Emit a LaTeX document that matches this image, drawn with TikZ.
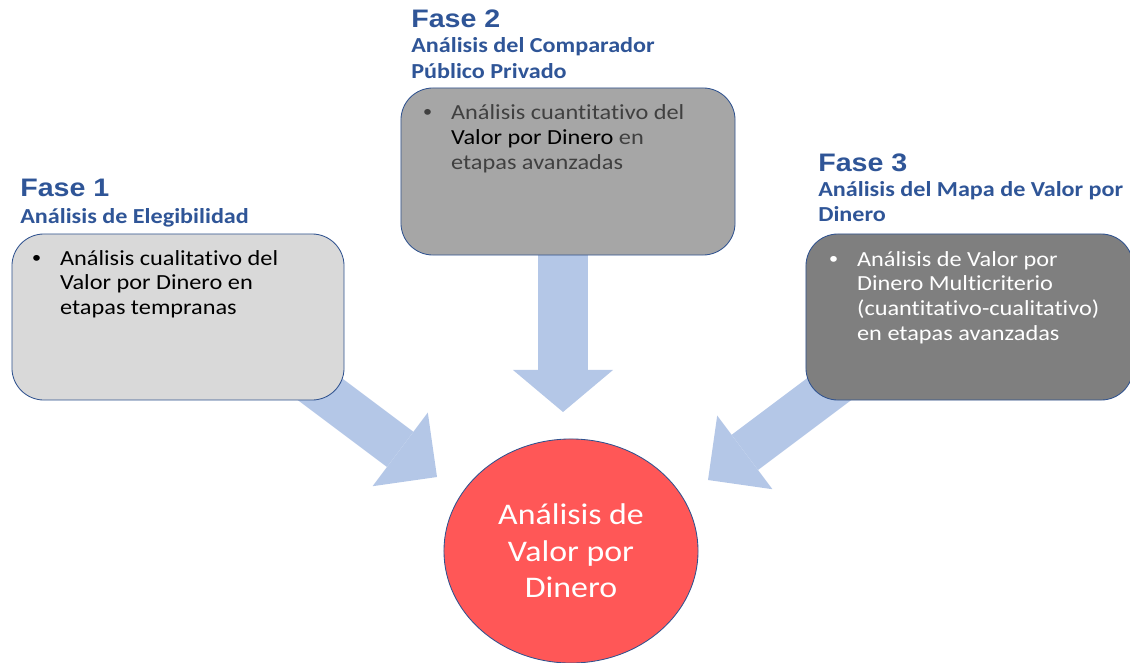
\documentclass[tikz,border=0pt]{standalone}
\usepackage{fontspec}
\setmainfont{Carlito}[FakeStretch=1.13, Ligatures=NoCommon]
\newfontfamily\fasefont{Liberation Sans}[FakeStretch=1.13]
\usetikzlibrary{
	positioning				% relative placement
	, arrows.meta			% block arrow tips
	, backgrounds			% arrows behind the boxes
	, shapes.geometric		% ellipse
}

\definecolor{faseazul}{HTML}{2F5597}
\definecolor{bordeazul}{HTML}{2F528F}
\definecolor{flechaazul}{HTML}{B4C7E7}
\definecolor{gris1}{HTML}{D9D9D9}
\definecolor{gris2}{HTML}{A6A6A6}
\definecolor{gris3}{HTML}{7F7F7F}
\definecolor{textogris}{HTML}{404040}
\definecolor{rojo}{HTML}{FF5757}

% small round bullet, as in the slides
\newcommand{\punto}{{\fasefont •}}

\begin{document}
\begin{tikzpicture}[
			x=0.025cm, y=-0.025cm,
			caja/.style={
				rectangle,
				rounded corners=0.8cm,
				draw=bordeazul, line width=0.6pt
			},
			titulo/.style={
				font=\fasefont\bfseries\fontsize{18}{21}\selectfont,
				text=faseazul,
				inner sep=0pt,
				anchor=base west
			},
			subtitulo/.style={
				titulo,
				font=\bfseries\fontsize{15.2}{17.8}\selectfont
			},
			vineta/.style={
				font=\fontsize{15.3}{17.7}\selectfont,
				inner sep=0pt,
				anchor=base west
			},
			flecha/.style={
				draw=flechaazul,
				line width=1.1cm,
				-{Triangle[length=1.15cm, width=2.3cm, line width=0pt]}
			}]

			\useasboundingbox (0,0) rectangle (1130,663);

			%%% The three phases
			\node [caja, fill=gris1, minimum width=8.3cm, minimum height=4.15cm] (caja1) at (178,317) {};
			\node [caja, fill=gris2, minimum width=8.35cm, minimum height=4.175cm] (caja2) at (568,171.5) {};
			\node [caja, fill=gris3, minimum width=8.175cm, minimum height=4.15cm] (caja3) at (969.5,317) {};

			\node [titulo] (fase1) at (20,197) {Fase 1};
			\node [subtitulo] (sub1) at (20,223) {Análisis de Elegibilidad};
			\node [vineta] (texto1) at (32,265) {\begin{tabular}[t]{@{}p{19.8pt}@{}l@{}}
				\punto & Análisis cualitativo del\\
				       & Valor por Dinero en\\
				       & etapas tempranas
			\end{tabular}};

			\node [titulo] (fase2) at (411,28) {Fase 2};
			\node [subtitulo] (sub2) at (411,53) {\begin{tabular}[t]{@{}l@{}}
				Análisis del Comparador\\
				Público Privado
			\end{tabular}};
			\node [vineta, text=textogris] (texto2) at (423,120) {\begin{tabular}[t]{@{}p{19.8pt}@{}l@{}}
				\punto & Análisis cuantitativo del\\
				       & {\color{black}Valor por Dinero} en\\
				       & etapas avanzadas
			\end{tabular}};

			\node [titulo] (fase3) at (818,172) {Fase 3};
			\node [subtitulo] (sub3) at (818,196) {\begin{tabular}[t]{@{}l@{}}
				Análisis del Mapa de Valor por\\
				Dinero
			\end{tabular}};
			\node [vineta, text=white] (texto3) at (829,266) {\begin{tabular}[t]{@{}p{19.8pt}@{}l@{}}
				\punto & Análisis de Valor por\\
				       & Dinero Multicriterio\\
				       & (cuantitativo-cualitativo)\\
				       & en etapas avanzadas
			\end{tabular}};

			%%% Central result
			\node [ellipse, fill=rojo, draw=bordeazul, line width=0.6pt,
				minimum width=6.35cm, minimum height=5.6cm,
				text=white, align=center,
				font=\fontsize{21.3}{26}\selectfont] (valor) at (571,551) {Análisis de\\ Valor por\\ Dinero};

			%%% Block arrows, behind the boxes
			\begin{scope}[on background layer]
				\coordinate (s1) at (277,357);
				\coordinate (t1) at (437,477);
				\coordinate (s2) at (563,220);
				\coordinate (t2) at (563,412);
				\coordinate (s3) at (868,360);
				\coordinate (t3) at (708,480);

				\draw [flecha] (s1) -- (t1);
				\draw [flecha, line width=1.25cm, -{Triangle[length=1.05cm, width=2.5cm, line width=0pt]}] (s2) -- (t2);
				\draw [flecha] (s3) -- (t3);
			\end{scope}

		\end{tikzpicture}
\end{document}
